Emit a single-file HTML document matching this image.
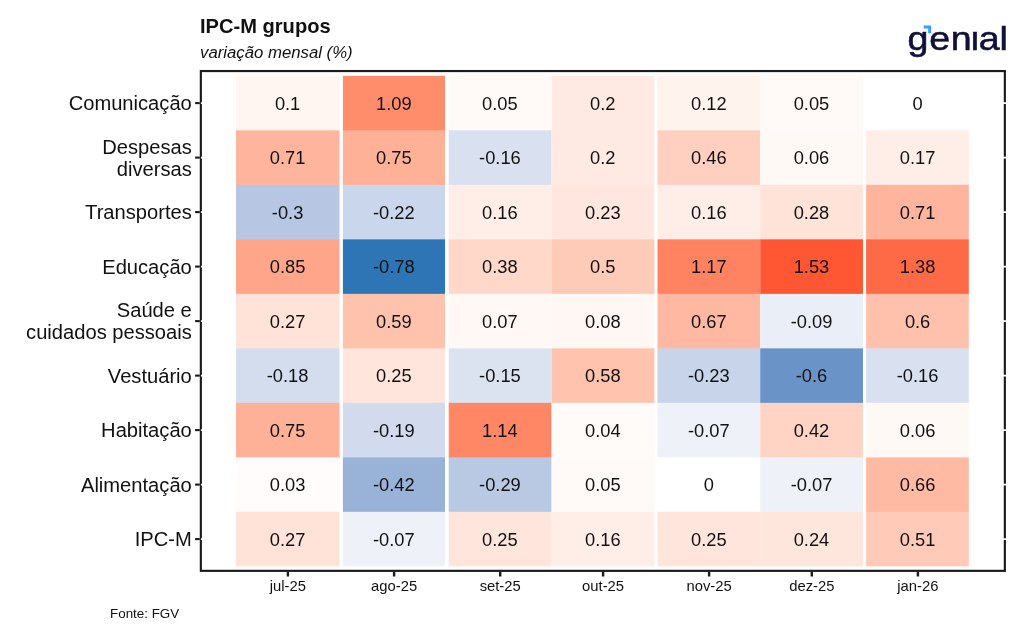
<!DOCTYPE html>
<html lang="pt-BR"><head><meta charset="utf-8"><title>IPC-M grupos</title>
<style>html,body{margin:0;padding:0;background:#fff}svg{display:block}text{font-family:"Liberation Sans",sans-serif;fill:#111}.c{font-size:18.3px;text-anchor:middle}.y{font-size:20.15px;text-anchor:end}.x{font-size:14.8px;text-anchor:middle}</style>
</head><body>
<svg width="1024" height="640" viewBox="0 0 1024 640">
<rect width="1024" height="640" fill="#fff"/>
<rect x="200.85" y="71.05" width="804" height="499.8" fill="none" stroke="#1a1a1a" stroke-width="2.15"/>
<g stroke="#fff" stroke-width="1.9">
<line x1="200.9" x2="1006.5" y1="103.10" y2="103.10"/>
<line x1="200.9" x2="1006.5" y1="157.60" y2="157.60"/>
<line x1="200.9" x2="1006.5" y1="212.10" y2="212.10"/>
<line x1="200.9" x2="1006.5" y1="266.60" y2="266.60"/>
<line x1="200.9" x2="1006.5" y1="321.10" y2="321.10"/>
<line x1="200.9" x2="1006.5" y1="375.60" y2="375.60"/>
<line x1="200.9" x2="1006.5" y1="430.10" y2="430.10"/>
<line x1="200.9" x2="1006.5" y1="484.60" y2="484.60"/>
<line x1="200.9" x2="1006.5" y1="539.10" y2="539.10"/>
</g>
<g shape-rendering="auto">
<rect x="236.00" y="75.85" width="103.50" height="55.10" fill="#fff5f1"/>
<rect x="342.90" y="75.85" width="102.10" height="55.10" fill="#ff8c6b"/>
<rect x="448.70" y="75.85" width="102.90" height="55.10" fill="#fffaf8"/>
<rect x="551.60" y="75.85" width="102.80" height="55.10" fill="#ffeae3"/>
<rect x="657.50" y="75.85" width="102.70" height="55.10" fill="#fff3ee"/>
<rect x="760.20" y="75.85" width="102.80" height="55.10" fill="#fffaf8"/>
<rect x="866.10" y="75.85" width="102.70" height="55.10" fill="#ffffff"/>
<rect x="236.00" y="130.35" width="103.50" height="55.10" fill="#ffb59d"/>
<rect x="342.90" y="130.35" width="102.10" height="55.10" fill="#ffb198"/>
<rect x="448.70" y="130.35" width="102.90" height="55.10" fill="#d9e1f0"/>
<rect x="551.60" y="130.35" width="102.80" height="55.10" fill="#ffeae3"/>
<rect x="657.50" y="130.35" width="102.70" height="55.10" fill="#ffcfbf"/>
<rect x="760.20" y="130.35" width="102.80" height="55.10" fill="#fff9f6"/>
<rect x="866.10" y="130.35" width="102.70" height="55.10" fill="#ffede7"/>
<rect x="236.00" y="184.85" width="103.50" height="55.10" fill="#b7c7e3"/>
<rect x="342.90" y="184.85" width="102.10" height="55.10" fill="#cad6eb"/>
<rect x="448.70" y="184.85" width="102.90" height="55.10" fill="#ffeee8"/>
<rect x="551.60" y="184.85" width="102.80" height="55.10" fill="#ffe7df"/>
<rect x="657.50" y="184.85" width="102.70" height="55.10" fill="#ffeee8"/>
<rect x="760.20" y="184.85" width="102.80" height="55.10" fill="#ffe2d8"/>
<rect x="866.10" y="184.85" width="102.70" height="55.10" fill="#ffb59d"/>
<rect x="236.00" y="239.35" width="103.50" height="55.10" fill="#ffa68a"/>
<rect x="342.90" y="239.35" width="102.10" height="55.10" fill="#2e75b6"/>
<rect x="448.70" y="239.35" width="102.90" height="55.10" fill="#ffd8ca"/>
<rect x="551.60" y="239.35" width="102.80" height="55.10" fill="#ffcbb9"/>
<rect x="657.50" y="239.35" width="102.70" height="55.10" fill="#ff8361"/>
<rect x="760.20" y="239.35" width="102.80" height="55.10" fill="#ff5733"/>
<rect x="866.10" y="239.35" width="102.70" height="55.10" fill="#ff6a46"/>
<rect x="236.00" y="293.85" width="103.50" height="55.10" fill="#ffe3d9"/>
<rect x="342.90" y="293.85" width="102.10" height="55.10" fill="#ffc2ad"/>
<rect x="448.70" y="293.85" width="102.90" height="55.10" fill="#fff8f5"/>
<rect x="551.60" y="293.85" width="102.80" height="55.10" fill="#fff7f4"/>
<rect x="657.50" y="293.85" width="102.70" height="55.10" fill="#ffb9a2"/>
<rect x="760.20" y="293.85" width="102.80" height="55.10" fill="#e9eef7"/>
<rect x="866.10" y="293.85" width="102.70" height="55.10" fill="#ffc1ac"/>
<rect x="236.00" y="348.35" width="103.50" height="55.10" fill="#d4ddee"/>
<rect x="342.90" y="348.35" width="102.10" height="55.10" fill="#ffe5dc"/>
<rect x="448.70" y="348.35" width="102.90" height="55.10" fill="#dbe3f1"/>
<rect x="551.60" y="348.35" width="102.80" height="55.10" fill="#ffc3ae"/>
<rect x="657.50" y="348.35" width="102.70" height="55.10" fill="#c8d4ea"/>
<rect x="760.20" y="348.35" width="102.80" height="55.10" fill="#6a93c7"/>
<rect x="866.10" y="348.35" width="102.70" height="55.10" fill="#d9e1f0"/>
<rect x="236.00" y="402.85" width="103.50" height="55.10" fill="#ffb198"/>
<rect x="342.90" y="402.85" width="102.10" height="55.10" fill="#d1dbed"/>
<rect x="448.70" y="402.85" width="102.90" height="55.10" fill="#ff8765"/>
<rect x="551.60" y="402.85" width="102.80" height="55.10" fill="#fffbf9"/>
<rect x="657.50" y="402.85" width="102.70" height="55.10" fill="#eef2f8"/>
<rect x="760.20" y="402.85" width="102.80" height="55.10" fill="#ffd4c4"/>
<rect x="866.10" y="402.85" width="102.70" height="55.10" fill="#fff9f6"/>
<rect x="236.00" y="457.35" width="103.50" height="55.10" fill="#fffcfb"/>
<rect x="342.90" y="457.35" width="102.10" height="55.10" fill="#99b2d8"/>
<rect x="448.70" y="457.35" width="102.90" height="55.10" fill="#b9c9e4"/>
<rect x="551.60" y="457.35" width="102.80" height="55.10" fill="#fffaf8"/>
<rect x="657.50" y="457.35" width="102.70" height="55.10" fill="#ffffff"/>
<rect x="760.20" y="457.35" width="102.80" height="55.10" fill="#eef2f8"/>
<rect x="866.10" y="457.35" width="102.70" height="55.10" fill="#ffbaa4"/>
<rect x="236.00" y="511.85" width="103.50" height="54.50" fill="#ffe3d9"/>
<rect x="342.90" y="511.85" width="102.10" height="54.50" fill="#eef2f8"/>
<rect x="448.70" y="511.85" width="102.90" height="54.50" fill="#ffe5dc"/>
<rect x="551.60" y="511.85" width="102.80" height="54.50" fill="#ffeee8"/>
<rect x="657.50" y="511.85" width="102.70" height="54.50" fill="#ffe5dc"/>
<rect x="760.20" y="511.85" width="102.80" height="54.50" fill="#ffe6dd"/>
<rect x="866.10" y="511.85" width="102.70" height="54.50" fill="#ffcab8"/>
</g>
<g stroke="#1a1a1a" stroke-width="2.1">
<line x1="195.1" x2="199.8" y1="103.10" y2="103.10"/>
<line x1="195.1" x2="199.8" y1="157.60" y2="157.60"/>
<line x1="195.1" x2="199.8" y1="212.10" y2="212.10"/>
<line x1="195.1" x2="199.8" y1="266.60" y2="266.60"/>
<line x1="195.1" x2="199.8" y1="321.10" y2="321.10"/>
<line x1="195.1" x2="199.8" y1="375.60" y2="375.60"/>
<line x1="195.1" x2="199.8" y1="430.10" y2="430.10"/>
<line x1="195.1" x2="199.8" y1="484.60" y2="484.60"/>
<line x1="195.1" x2="199.8" y1="539.10" y2="539.10"/>
<line x1="287.90" x2="287.90" y1="572" y2="576.5" stroke-width="2.4"/>
<line x1="394.10" x2="394.10" y1="572" y2="576.5" stroke-width="2.4"/>
<line x1="500.20" x2="500.20" y1="572" y2="576.5" stroke-width="2.4"/>
<line x1="603.10" x2="603.10" y1="572" y2="576.5" stroke-width="2.4"/>
<line x1="709.10" x2="709.10" y1="572" y2="576.5" stroke-width="2.4"/>
<line x1="811.80" x2="811.80" y1="572" y2="576.5" stroke-width="2.4"/>
<line x1="917.90" x2="917.90" y1="572" y2="576.5" stroke-width="2.4"/>
</g>
<g class="c">
<text x="287.6" y="109.65">0.1</text>
<text x="393.8" y="109.65">1.09</text>
<text x="499.9" y="109.65">0.05</text>
<text x="602.8" y="109.65">0.2</text>
<text x="708.8" y="109.65">0.12</text>
<text x="811.5" y="109.65">0.05</text>
<text x="917.6" y="109.65">0</text>
<text x="287.6" y="164.15">0.71</text>
<text x="393.8" y="164.15">0.75</text>
<text x="499.9" y="164.15">-0.16</text>
<text x="602.8" y="164.15">0.2</text>
<text x="708.8" y="164.15">0.46</text>
<text x="811.5" y="164.15">0.06</text>
<text x="917.6" y="164.15">0.17</text>
<text x="287.6" y="218.65">-0.3</text>
<text x="393.8" y="218.65">-0.22</text>
<text x="499.9" y="218.65">0.16</text>
<text x="602.8" y="218.65">0.23</text>
<text x="708.8" y="218.65">0.16</text>
<text x="811.5" y="218.65">0.28</text>
<text x="917.6" y="218.65">0.71</text>
<text x="287.6" y="273.15">0.85</text>
<text x="393.8" y="273.15">-0.78</text>
<text x="499.9" y="273.15">0.38</text>
<text x="602.8" y="273.15">0.5</text>
<text x="708.8" y="273.15">1.17</text>
<text x="811.5" y="273.15">1.53</text>
<text x="917.6" y="273.15">1.38</text>
<text x="287.6" y="327.65">0.27</text>
<text x="393.8" y="327.65">0.59</text>
<text x="499.9" y="327.65">0.07</text>
<text x="602.8" y="327.65">0.08</text>
<text x="708.8" y="327.65">0.67</text>
<text x="811.5" y="327.65">-0.09</text>
<text x="917.6" y="327.65">0.6</text>
<text x="287.6" y="382.15">-0.18</text>
<text x="393.8" y="382.15">0.25</text>
<text x="499.9" y="382.15">-0.15</text>
<text x="602.8" y="382.15">0.58</text>
<text x="708.8" y="382.15">-0.23</text>
<text x="811.5" y="382.15">-0.6</text>
<text x="917.6" y="382.15">-0.16</text>
<text x="287.6" y="436.65">0.75</text>
<text x="393.8" y="436.65">-0.19</text>
<text x="499.9" y="436.65">1.14</text>
<text x="602.8" y="436.65">0.04</text>
<text x="708.8" y="436.65">-0.07</text>
<text x="811.5" y="436.65">0.42</text>
<text x="917.6" y="436.65">0.06</text>
<text x="287.6" y="491.15">0.03</text>
<text x="393.8" y="491.15">-0.42</text>
<text x="499.9" y="491.15">-0.29</text>
<text x="602.8" y="491.15">0.05</text>
<text x="708.8" y="491.15">0</text>
<text x="811.5" y="491.15">-0.07</text>
<text x="917.6" y="491.15">0.66</text>
<text x="287.6" y="545.65">0.27</text>
<text x="393.8" y="545.65">-0.07</text>
<text x="499.9" y="545.65">0.25</text>
<text x="602.8" y="545.65">0.16</text>
<text x="708.8" y="545.65">0.25</text>
<text x="811.5" y="545.65">0.24</text>
<text x="917.6" y="545.65">0.51</text>
</g>
<g class="y">
<text x="191.8" y="110.10">Comunicação</text>
<text x="191.8" y="153.70">Despesas</text>
<text x="191.8" y="175.50">diversas</text>
<text x="191.8" y="219.10">Transportes</text>
<text x="191.8" y="273.60">Educação</text>
<text x="191.8" y="317.20">Saúde e</text>
<text x="191.8" y="339.00">cuidados pessoais</text>
<text x="191.8" y="382.60">Vestuário</text>
<text x="191.8" y="437.10">Habitação</text>
<text x="191.8" y="491.60">Alimentação</text>
<text x="191.8" y="546.10">IPC-M</text>
</g>
<g class="x">
<text x="287.9" y="590.6">jul-25</text>
<text x="394.1" y="590.6">ago-25</text>
<text x="500.2" y="590.6">set-25</text>
<text x="603.1" y="590.6">out-25</text>
<text x="709.1" y="590.6">nov-25</text>
<text x="811.8" y="590.6">dez-25</text>
<text x="917.9" y="590.6">jan-26</text>
</g>
<text x="200" y="33.2" style="font-size:20.1px;font-weight:bold">IPC-M grupos</text>
<text x="200" y="57.6" style="font-size:16.75px;font-style:italic">variação mensal (%)</text>
<text x="110" y="618.3" style="font-size:13.4px">Fonte: FGV</text>
<text transform="scale(1.13 1)" x="803.10 822.30 841.42 859.12 866.11 884.42" y="50.5" style="font-size:33.3px;fill:#10103a;stroke:#10103a;stroke-width:0.55px">genial</text>
<rect x="971" y="22" width="8" height="8.2" fill="#fff"/>
<path d="M923.8 25.6h7.3v7.7h-2.9v-4.8h-4.4z" fill="#399cff"/>
</svg></body></html>
